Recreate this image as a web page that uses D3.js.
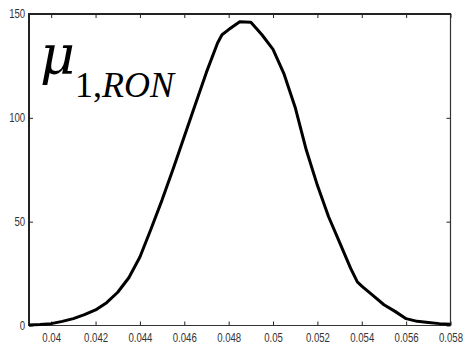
<!DOCTYPE html>
<html>
<head>
<meta charset="utf-8">
<script src="https://cdn.jsdelivr.net/npm/d3@7/dist/d3.min.js"></script>
<style>
  html, body { margin: 0; padding: 0; background: #fff; }
  svg { display: block; }
</style>
</head>
<body>
<svg id="chart" width="463" height="345"></svg>
<script>
// Density estimate of mu_{1,RON}
const xValues = [0.0390, 0.0395, 0.0400, 0.0405, 0.0410, 0.0415, 0.0420, 0.0425, 0.0430, 0.0435,
                 0.0440, 0.0445, 0.0450, 0.0455, 0.0460, 0.0465, 0.0470, 0.0475, 0.0477, 0.0480,
                 0.0485, 0.0490, 0.0495, 0.0500, 0.0505, 0.0510, 0.0515, 0.0520, 0.0525, 0.0530,
                 0.0535, 0.0538, 0.0540, 0.0545, 0.0550, 0.0555, 0.0560, 0.0565, 0.0570, 0.0575,
                 0.0580];
const density = [0.3, 0.5, 0.9, 2.0, 3.3, 5.2, 7.5, 11.0, 16.0, 23.0,
                 33.0, 46.5, 60.5, 75.5, 91.0, 106.5, 122.0, 136.0, 140.0, 142.5,
                 146.3, 146.0, 140.0, 133.0, 121.0, 105.0, 84.5, 67.5, 52.5, 40.0,
                 27.5, 21.0, 19.0, 14.5, 10.0, 6.8, 3.3, 2.0, 1.4, 0.9,
                 0.6];
const xTicks = [0.04, 0.042, 0.044, 0.046, 0.048, 0.05, 0.052, 0.054, 0.056, 0.058];
const xTickLabels = ["0.04", "0.042", "0.044", "0.046", "0.048", "0.05", "0.052", "0.054", "0.056", "0.058"];
const yTicks = [0, 50, 100, 150];
const yTickLabels = ["0", "50", "100", "150"];

const svg = d3.select("#chart");
const plotLeft = 29, plotRight = 450.5, plotTop = 14, plotBottom = 325.5;

const x = d3.scaleLinear().domain([0.039, 0.058]).range([plotLeft, plotRight]);
const y = d3.scaleLinear().domain([0, 150]).range([plotBottom, plotTop]);

const tickLen = 4;
const labelFont = "'Liberation Sans', Arial, sans-serif";

// bottom axis: inward ticks with labels
const gB = svg.append("g").attr("transform", `translate(0,${plotBottom})`)
  .call(d3.axisBottom(x).tickValues(xTicks).tickSizeInner(-tickLen).tickSizeOuter(0)
        .tickPadding(8).tickFormat((d, i) => xTickLabels[i]));
// top axis: inward ticks, no labels
const gT = svg.append("g").attr("transform", `translate(0,${plotTop})`)
  .call(d3.axisTop(x).tickValues(xTicks).tickSizeInner(-tickLen).tickSizeOuter(0).tickFormat(""));
// left axis
const gL = svg.append("g").attr("transform", `translate(${plotLeft},0)`)
  .call(d3.axisLeft(y).tickValues(yTicks).tickSizeInner(-tickLen).tickSizeOuter(0)
        .tickPadding(3).tickFormat((d, i) => yTickLabels[i]));
// right axis
const gR = svg.append("g").attr("transform", `translate(${plotRight},0)`)
  .call(d3.axisRight(y).tickValues(yTicks).tickSizeInner(-tickLen).tickSizeOuter(0).tickFormat(""));

[gB, gT, gL, gR].forEach(g => {
  g.select(".domain").remove();
  g.selectAll(".tick line").attr("stroke", "#222").attr("stroke-width", 1);
  g.selectAll("text").attr("font-family", labelFont).attr("font-size", 12).attr("fill", "#333");
});
gB.selectAll("text").attr("transform", "scale(0.8,1)");
gL.selectAll("text").attr("x", -3 / 0.8 - 1).attr("transform", "scale(0.8,1)");

// frame
svg.append("line").attr("x1", plotLeft).attr("x2", plotRight).attr("y1", plotBottom).attr("y2", plotBottom)
  .attr("stroke", "#333").attr("stroke-width", 1.2);
svg.append("line").attr("x1", plotRight).attr("x2", plotRight).attr("y1", plotTop).attr("y2", plotBottom)
  .attr("stroke", "#333").attr("stroke-width", 1.2);
svg.append("line").attr("x1", plotLeft - 1).attr("x2", plotRight + 0.6).attr("y1", plotTop).attr("y2", plotTop)
  .attr("stroke", "#222").attr("stroke-width", 2);
svg.append("line").attr("x1", plotLeft).attr("x2", plotLeft).attr("y1", plotTop - 1).attr("y2", plotBottom + 0.6)
  .attr("stroke", "#222").attr("stroke-width", 2);

// density curve
const line = d3.line().x((d, i) => x(xValues[i])).y(d => y(d));
svg.append("path").datum(density)
  .attr("d", line)
  .attr("fill", "none").attr("stroke", "#000").attr("stroke-width", 3)
  .attr("stroke-linejoin", "round");

// label
const lbl = svg.append("text").attr("fill", "#000");
lbl.append("tspan").attr("x", 40).attr("y", 74).attr("font-size", 54)
  .attr("font-family", "'DejaVu Serif', 'Liberation Serif', serif").attr("font-style", "italic").text("μ");
lbl.append("tspan").attr("dy", 23).attr("font-size", 36)
  .attr("font-family", "'Liberation Serif', 'Times New Roman', serif").text("1,");
lbl.append("tspan").attr("font-size", 36)
  .attr("font-family", "'Liberation Serif', 'Times New Roman', serif").attr("font-style", "italic").text("RON");
</script>
</body>
</html>
